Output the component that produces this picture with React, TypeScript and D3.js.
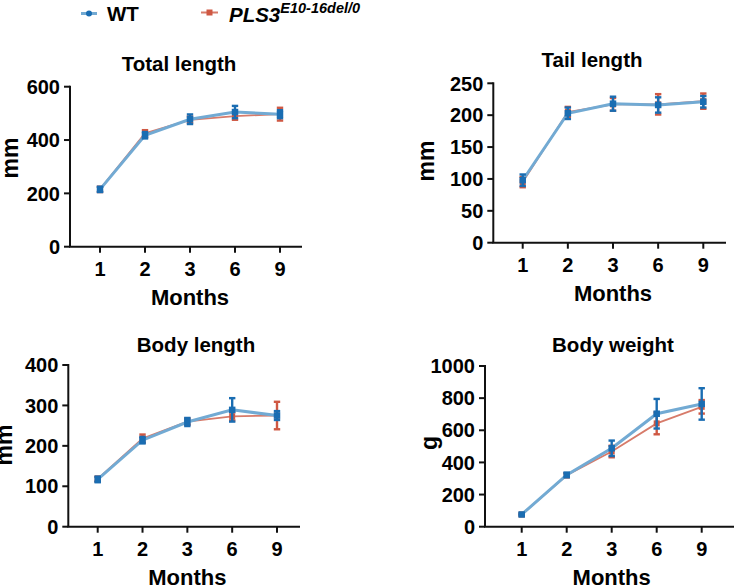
import * as d3 from 'd3';

// growth curves, WT vs PLS3 knockout, mean +/- SD per timepoint
const months = ['1', '2', '3', '6', '9'];

const totalWT = [215, 418, 478, 505, 497];
const totalWTsd = [10, 12, 18, 23, 15];
const totalKO = [215, 425, 476, 490, 497];
const totalKOsd = [10, 12, 12, 14, 24];

const tailWT = [98, 203, 218, 216, 221];
const tailWTsd = [9, 9, 11, 12, 9];
const tailKO = [95, 205, 217, 217, 222];
const tailKOsd = [8, 8, 10, 16, 12];

const bodyWT = [117, 214, 259, 289, 275];
const bodyWTsd = [7, 8, 10, 29, 11];
const bodyKO = [118, 218, 260, 273, 275];
const bodyKOsd = [6, 10, 8, 10, 34];

const weightWT = [76, 322, 488, 703, 764];
const weightWTsd = [6, 14, 48, 92, 98];
const weightKO = [76, 320, 468, 643, 746];
const weightKOsd = [6, 12, 36, 68, 42];

const totalTicks = [0, 200, 400, 600];
const tailTicks = [0, 50, 100, 150, 200, 250];
const bodyTicks = [0, 100, 200, 300, 400];
const weightTicks = [0, 200, 400, 600, 800, 1000];

const WT_LINE = '#72aad3';
const WT_DOT = '#1a6db2';
const KO_LINE = '#d77b6a';
const KO_DOT = '#cf5843';
const FONT = '"Liberation Sans", Arial, sans-serif';

type Panel = {
  title: string;
  unit: string;
  ticks: number[];
  wt: number[];
  wtSd: number[];
  ko: number[];
  koSd: number[];
  axisX: number;
  axisEnd: number;
  top: number;
  bottom: number;
  xFirst: number;
  xLast: number;
  titleX: number;
  titleY: number;
  unitX: number;
  unitY: number;
};

const panels: Panel[] = [
  {
    title: 'Total length', unit: 'mm', ticks: totalTicks,
    wt: totalWT, wtSd: totalWTsd, ko: totalKO, koSd: totalKOsd,
    axisX: 70, axisEnd: 302, top: 86.7, bottom: 246.7, xFirst: 100, xLast: 280,
    titleX: 179, titleY: 70.5, unitX: 18, unitY: 158,
  },
  {
    title: 'Tail length', unit: 'mm', ticks: tailTicks,
    wt: tailWT, wtSd: tailWTsd, ko: tailKO, koSd: tailKOsd,
    axisX: 493.3, axisEnd: 726, top: 83.3, bottom: 242.7, xFirst: 522.7, xLast: 703.3,
    titleX: 592, titleY: 67, unitX: 434, unitY: 161,
  },
  {
    title: 'Body length', unit: 'mm', ticks: bodyTicks,
    wt: bodyWT, wtSd: bodyWTsd, ko: bodyKO, koSd: bodyKOsd,
    axisX: 68.3, axisEnd: 300, top: 365, bottom: 526.7, xFirst: 97.7, xLast: 277,
    titleX: 196, titleY: 352, unitX: 12, unitY: 445,
  },
  {
    title: 'Body weight', unit: 'g', ticks: weightTicks,
    wt: weightWT, wtSd: weightWTsd, ko: weightKO, koSd: weightKOsd,
    axisX: 485, axisEnd: 734, top: 366, bottom: 526.7, xFirst: 521.7, xLast: 701.7,
    titleX: 613, titleY: 352, unitX: 437, unitY: 443,
  },
];

function Series({ x, y, mean, sd, line, dot, width, size }: any) {
  const path = d3.line<number>()
    .x((_, i) => x(months[i]))
    .y((d) => y(d))(mean);
  return (
    <g>
      <path d={path || ''} fill="none" stroke={line} strokeWidth={width} />
      {mean.map((m: number, i: number) => {
        const cx = x(months[i]);
        const hi = y(m + sd[i]);
        const lo = y(m - sd[i]);
        return (
          <g key={i} stroke={dot} strokeWidth={2.4}>
            <line x1={cx} x2={cx} y1={hi} y2={lo} />
            <line x1={cx - 3.2} x2={cx + 3.2} y1={hi} y2={hi} />
            <line x1={cx - 3.2} x2={cx + 3.2} y1={lo} y2={lo} />
            <rect x={cx - size / 2} y={y(m) - size / 2} width={size} height={size} fill={dot} stroke="none" />
          </g>
        );
      })}
    </g>
  );
}

function Chart({ p }: { p: Panel }) {
  const x = d3.scalePoint<string>().domain(months).range([p.xFirst, p.xLast]);
  const y = d3.scaleLinear()
    .domain([0, p.ticks[p.ticks.length - 1]])
    .range([p.bottom, p.top]);
  return (
    <g fontFamily={FONT} fontWeight="bold">
      <text x={p.titleX} y={p.titleY} textAnchor="middle" fontSize={20.5}>{p.title}</text>
      <text transform={`translate(${p.unitX},${p.unitY}) rotate(-90)`} textAnchor="middle" fontSize={23}>
        {p.unit}
      </text>
      {/* y axis */}
      <line x1={p.axisX} x2={p.axisX} y1={p.top - 1} y2={p.bottom} stroke="#111" strokeWidth={2} />
      {p.ticks.map((t) => (
        <g key={t}>
          <line x1={p.axisX - 6} x2={p.axisX} y1={y(t)} y2={y(t)} stroke="#111" strokeWidth={2} />
          <text x={p.axisX - 10} y={y(t)} dy="0.36em" textAnchor="end" fontSize={20}>{t}</text>
        </g>
      ))}
      {/* x axis */}
      <line x1={p.axisX - 1} x2={p.axisEnd} y1={p.bottom} y2={p.bottom} stroke="#111" strokeWidth={2} />
      {months.map((m) => (
        <g key={m}>
          <line x1={x(m)} x2={x(m)} y1={p.bottom} y2={p.bottom + 6} stroke="#111" strokeWidth={2} />
          <text x={x(m)} y={p.bottom + 29} textAnchor="middle" fontSize={20}>{m}</text>
        </g>
      ))}
      <text x={(p.xFirst + p.xLast) / 2} y={p.bottom + 58} textAnchor="middle" fontSize={22}>Months</text>
      <Series x={x} y={y} mean={p.ko} sd={p.koSd} line={KO_LINE} dot={KO_DOT} width={1.8} size={6} />
      <Series x={x} y={y} mean={p.wt} sd={p.wtSd} line={WT_LINE} dot={WT_DOT} width={3} size={6.5} />
    </g>
  );
}

export default function App() {
  return (
    <svg width={734} height={586} style={{ position: 'absolute', left: 0, top: 0, background: '#fff' }}>
      <rect width={734} height={586} fill="#fff" />
      {/* legend */}
      <g fontFamily={FONT} fontWeight="bold">
        <line x1={81} x2={97} y1={13.5} y2={13.5} stroke={WT_LINE} strokeWidth={3} />
        <circle cx={89} cy={13.5} r={3} fill={WT_DOT} />
        <text x={107} y={21} fontSize={20.5}>WT</text>
        <line x1={201} x2={218} y1={12.5} y2={12.5} stroke={KO_LINE} strokeWidth={2} />
        <rect x={206.5} y={9.5} width={6} height={6} fill={KO_DOT} />
        <text x={229} y={21.5} fontSize={20.5} fontStyle="italic">
          PLS3
          <tspan fontSize={14.5} dy={-9}>E10-16del/0</tspan>
        </text>
      </g>
      {panels.map((p) => <Chart key={p.title} p={p} />)}
    </svg>
  );
}
